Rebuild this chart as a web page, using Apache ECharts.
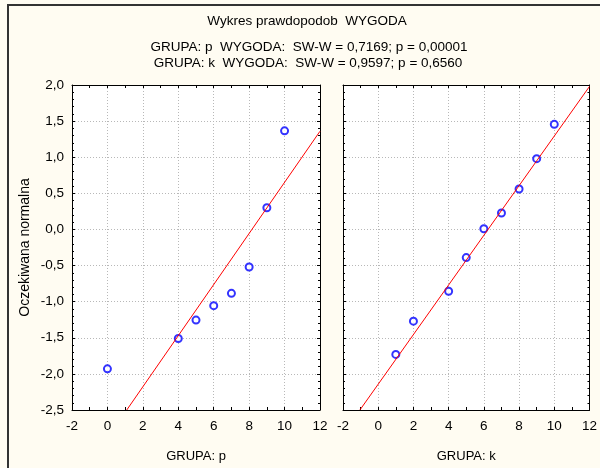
<!DOCTYPE html>
<html>
<head>
<meta charset="utf-8">
<script src="https://cdn.jsdelivr.net/npm/echarts@6/dist/echarts.min.js"></script>
<style>
  html, body { margin: 0; padding: 0; background: #fffcf2; }
  #chart { width: 600px; height: 468px; }
</style>
</head>
<body>
<div id="chart"></div>
<script>
// Normal probability plot of WYGODA, split by GRUPA
const titleText = 'Wykres prawdopodob  WYGODA';
const statLineP = 'GRUPA: p  WYGODA:  SW-W = 0,7169; p = 0,00001';
const statLineK = 'GRUPA: k  WYGODA:  SW-W = 0,9597; p = 0,6560';

// group p: observed values and expected normal scores
const valuesP = [0, 4, 5, 6, 7, 8, 9, 10];
const expectedP = [-1.93, -1.51, -1.255, -1.055, -0.885, -0.52, 0.30, 1.365];
// group k
const valuesK = [1, 2, 4, 5, 6, 7, 8, 9, 10];
const expectedK = [-1.73, -1.27, -0.855, -0.39, 0.01, 0.227, 0.56, 0.98, 1.455];

// reference lines (endpoints of the fitted normal line)
const fitXP = [1.09, 12];
const fitYP = [-2.5, 1.36];
const fitXK = [-1.04, 12];
const fitYK = [-2.5, 1.98];

const xTicks = { min: -2, max: 12, interval: 2 };
const yTicks = { min: -2.5, max: 2.0, interval: 0.5 };
const xNames = ['GRUPA: p', 'GRUPA: k'];
const yName = 'Oczekiwana normalna';

const FONT = 'Liberation Sans, Arial, sans-serif';
const pairs = (xs, ys) => xs.map((x, i) => [x, ys[i]]);

const chart = echarts.init(document.getElementById('chart'), null, { renderer: 'canvas' });

const frameLine = { show: true, onZero: false, lineStyle: { color: '#000', width: 1 } };
const splitDotted = { show: true, lineStyle: { color: '#b8b8b8', type: [1, 2], width: 1 } };

function xAxisFor(grid, bottom) {
  return {
    type: 'value', gridIndex: grid, position: bottom ? 'bottom' : 'top',
    min: xTicks.min, max: xTicks.max, interval: xTicks.interval,
    axisLine: frameLine,
    axisTick: { show: true, inside: true, length: 3, lineStyle: { color: '#000' } },
    minorTick: { show: true, splitNumber: 2, length: 3, lineStyle: { color: '#000' } },
    splitLine: bottom ? splitDotted : { show: false },
    axisLabel: bottom ? {
      show: true, color: '#000', fontSize: 13.5, fontFamily: FONT, margin: 9,
      formatter: v => String(v)
    } : { show: false },
    name: bottom ? xNames[grid] : '',
    nameLocation: 'middle', nameGap: 40,
    nameTextStyle: { color: '#000', fontSize: 13, fontFamily: FONT }
  };
}

function yAxisFor(grid, left, labelled) {
  return {
    type: 'value', gridIndex: grid, position: left ? 'left' : 'right',
    min: yTicks.min, max: yTicks.max, interval: yTicks.interval,
    axisLine: frameLine,
    axisTick: { show: true, inside: true, length: 3, lineStyle: { color: '#000' } },
    minorTick: { show: true, splitNumber: 5, length: 2, lineStyle: { color: '#000' } },
    splitLine: left ? splitDotted : { show: false },
    axisLabel: labelled ? {
      show: true, color: '#000', fontSize: 13.5, fontFamily: FONT, margin: 8,
      formatter: v => v.toFixed(1).replace('.', ',')
    } : { show: false },
    name: labelled ? yName : '',
    nameLocation: 'middle', nameGap: 40, nameRotate: 90,
    nameTextStyle: { color: '#000', fontSize: 14, fontFamily: FONT }
  };
}

const option = {
  animation: false,
  backgroundColor: '#fffcf2',
  graphic: [
    { type: 'rect', shape: { x: 7, y: 4, width: 593, height: 2 }, style: { fill: '#333' } },
    { type: 'rect', shape: { x: 7, y: 4, width: 2, height: 464 }, style: { fill: '#333' } },
    { type: 'text', x: 307, y: 21, style: { text: titleText, fill: '#000', font: '13.5px ' + FONT, textAlign: 'center', textVerticalAlign: 'middle' } },
    { type: 'text', x: 309, y: 47, style: { text: statLineP, fill: '#000', font: '13.5px ' + FONT, textAlign: 'center', textVerticalAlign: 'middle' } },
    { type: 'text', x: 308, y: 63, style: { text: statLineK, fill: '#000', font: '13.5px ' + FONT, textAlign: 'center', textVerticalAlign: 'middle' } }
  ],
  grid: [
    { left: 72, top: 85, width: 248, height: 330, show: true, backgroundColor: '#fff', borderWidth: 0 },
    { left: 343, top: 85, width: 248, height: 330, show: true, backgroundColor: '#fff', borderWidth: 0 }
  ],
  xAxis: [xAxisFor(0, true), xAxisFor(0, false), xAxisFor(1, true), xAxisFor(1, false)],
  yAxis: [yAxisFor(0, true, true), yAxisFor(0, false, false), yAxisFor(1, true, false), yAxisFor(1, false, false)],
  series: [
    {
      type: 'line', xAxisIndex: 0, yAxisIndex: 0, data: pairs(fitXP, fitYP),
      showSymbol: false, clip: true, lineStyle: { color: '#ff0000', width: 1 }, silent: true
    },
    {
      type: 'scatter', xAxisIndex: 0, yAxisIndex: 0, data: pairs(valuesP, expectedP),
      symbol: 'emptyCircle', symbolSize: 7, itemStyle: { color: '#0000ff', borderWidth: 1.3 }
    },
    {
      type: 'line', xAxisIndex: 2, yAxisIndex: 2, data: pairs(fitXK, fitYK),
      showSymbol: false, clip: true, lineStyle: { color: '#ff0000', width: 1 }, silent: true
    },
    {
      type: 'scatter', xAxisIndex: 2, yAxisIndex: 2, data: pairs(valuesK, expectedK),
      symbol: 'emptyCircle', symbolSize: 7, itemStyle: { color: '#0000ff', borderWidth: 1.3 }
    }
  ]
};

chart.setOption(option);
</script>
</body>
</html>
